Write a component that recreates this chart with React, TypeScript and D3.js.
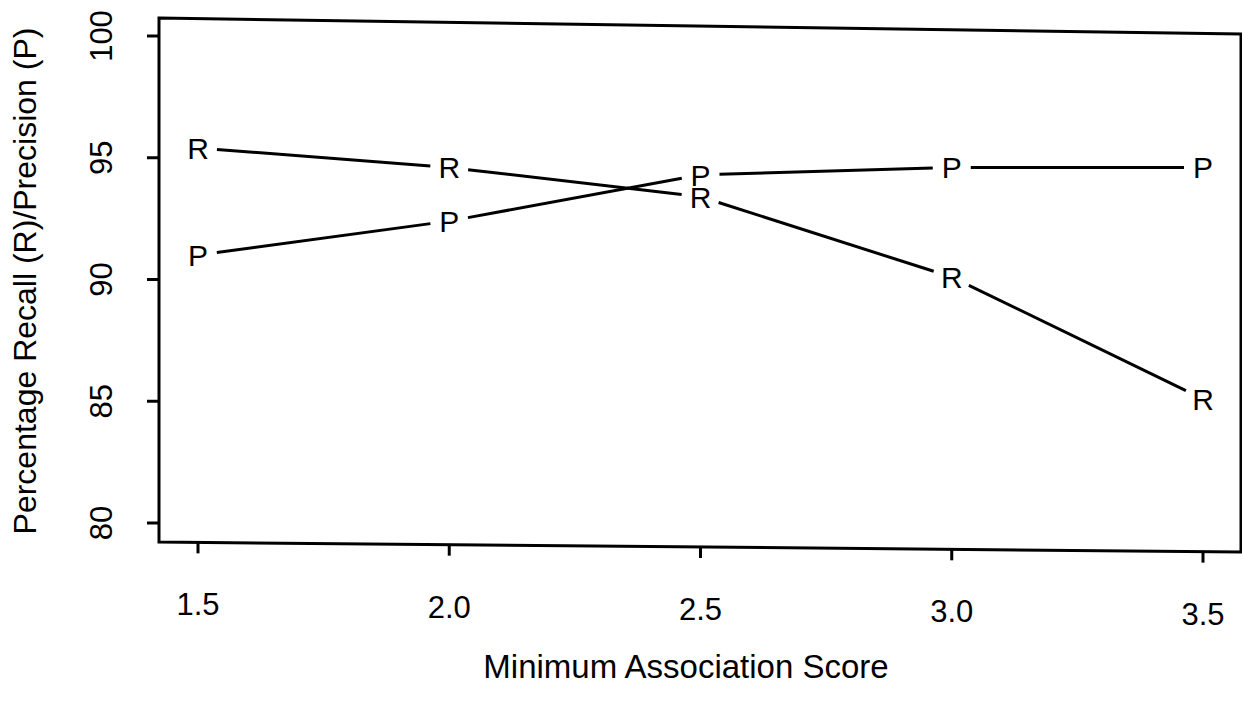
import React from 'react';
import * as d3 from 'd3';

// minimum association score thresholds
const scores = [1.5, 2.0, 2.5, 3.0, 3.5];
// percentage recall (R) and precision (P)
const recall = [95.4, 94.6, 93.4, 90.1, 85.1];
const precision = [91.0, 92.4, 94.3, 94.6, 94.6];
const yTicks = [80, 85, 90, 95, 100];
const xTickLabels = ['1.5', '2.0', '2.5', '3.0', '3.5'];

const W = 1242;
const H = 709;
const FONT = '"Liberation Sans", Arial, Helvetica, sans-serif';

const App = () => {
    const x = d3.scaleLinear().domain([1.5, 3.5]).range([198, 1203]);
    const y = d3.scaleLinear().domain([80, 100]).range([523, 36]);

    // plot frame (the scan is a little skewed)
    const frame = { left: 159, right: 1241, topL: 18, topR: 34, botL: 542, botR: 552 };
    const framePath = `M${frame.left},${frame.topL}L${frame.right},${frame.topR}L${frame.right},${frame.botR}L${frame.left},${frame.botL}Z`;
    const bottomAt = (px: number) =>
        frame.botL + (frame.botR - frame.botL) * (px - frame.left) / (frame.right - frame.left);

    const gap = 19;
    // segments between plotting letters, trimmed so the letters sit in gaps
    const segments = (vals: number[]) => d3.pairs(scores.map((s, i) => [x(s), y(vals[i])]))
        .map(([a, b]) => {
            const dx = b[0] - a[0];
            const dy = b[1] - a[1];
            const len = Math.hypot(dx, dy);
            const ux = dx / len, uy = dy / len;
            return [a[0] + ux * gap, a[1] + uy * gap, b[0] - ux * gap, b[1] - uy * gap];
        });

    const series = [
        { key: 'R', vals: recall },
        { key: 'P', vals: precision },
    ];

    return (
        <svg width={W} height={H} style={{ display: 'block', position: 'absolute', left: 0, top: 0, background: '#fff' }}
            fontFamily={FONT}>
            <rect width={W} height={H} fill="#fff" />
            <path d={framePath} fill="none" stroke="#000" strokeWidth={3} />

            {/* y axis ticks */}
            {yTicks.map(t => (
                <g key={t}>
                    <line x1={147} x2={frame.left} y1={y(t)} y2={y(t)} stroke="#000" strokeWidth={3} />
                    <text transform={`translate(112,${y(t)}) rotate(-90)`} textAnchor="middle" fontSize={31}>{t}</text>
                </g>
            ))}

            {/* x axis ticks */}
            {scores.map((s, i) => (
                <g key={s}>
                    <line x1={x(s)} x2={x(s)} y1={bottomAt(x(s))} y2={bottomAt(x(s)) + 11} stroke="#000" strokeWidth={3} />
                    <text x={x(s)} y={bottomAt(x(s)) + 73} textAnchor="middle" fontSize={31}>{xTickLabels[i]}</text>
                </g>
            ))}

            {/* axis titles */}
            <text x={686} y={678} textAnchor="middle" fontSize={33}>Minimum Association Score</text>
            <text transform="translate(36,281) rotate(-90)" textAnchor="middle" fontSize={32}>
                Percentage Recall (R)/Precision (P)
            </text>

            {series.map(s => (
                <g key={s.key}>
                    {segments(s.vals).map((seg, i) => (
                        <line key={i} x1={seg[0]} y1={seg[1]} x2={seg[2]} y2={seg[3]} stroke="#000" strokeWidth={3} />
                    ))}
                    {scores.map((sc, i) => (
                        <text key={i} x={x(sc)} y={y(s.vals[i])} dy="0.36em" textAnchor="middle" fontSize={30}>{s.key}</text>
                    ))}
                </g>
            ))}
        </svg>
    );
};

export default App;
